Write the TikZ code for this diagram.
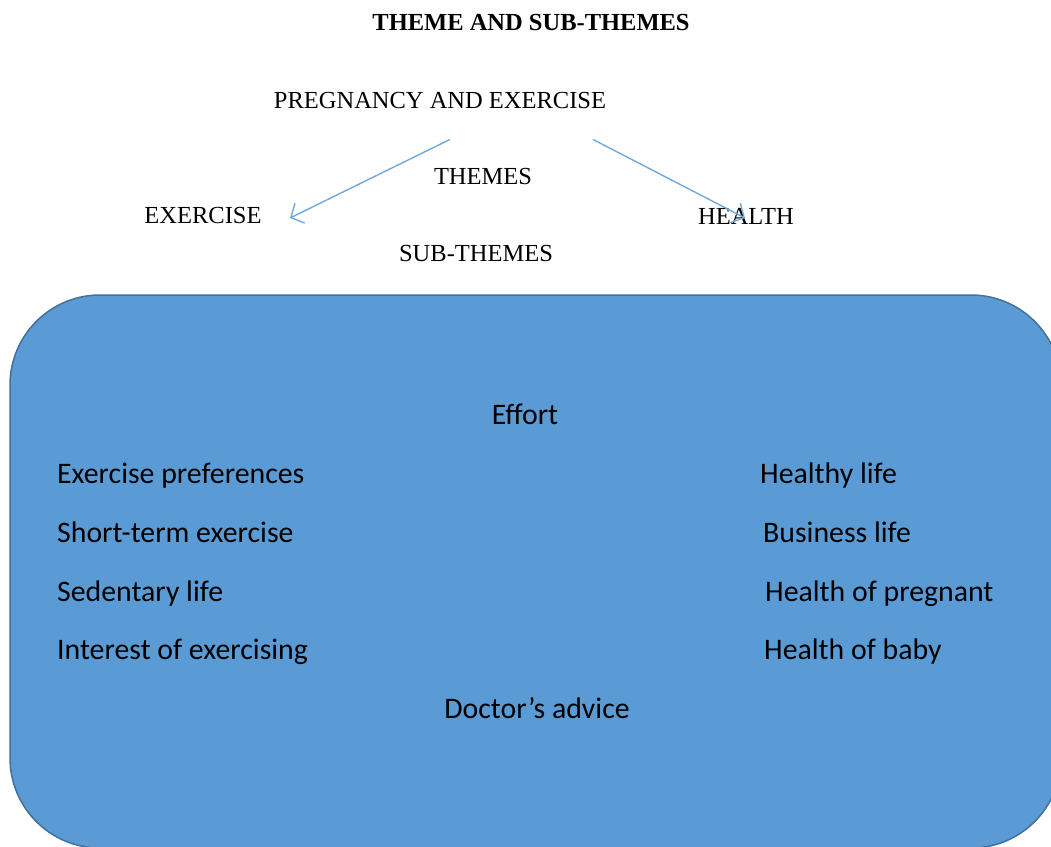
\documentclass[tikz,border=0pt]{standalone}
\usepackage{fontspec}
\setmainfont{Liberation Serif}
\newfontfamily\boxfont{Carlito}
\usetikzlibrary{arrows.meta}

\definecolor{boxblue}{HTML}{5B9BD5}
\definecolor{boxline}{HTML}{41719C}
\definecolor{arrowblue}{HTML}{6FA8DC}

\tikzset{
	heading/.style={inner sep=0pt, font=\fontsize{24.5}{29}\selectfont},
	subtheme/.style={inner sep=0pt, anchor=west, text height=17pt, text depth=5pt, font=\boxfont\fontsize{29.8}{34}\selectfont},
	midtheme/.style={subtheme, anchor=center},
	themearrow/.style={draw=arrowblue, line width=1.4pt, -{Straight Barb[length=10pt,width=22pt]}}
}

\begin{document}
\begin{tikzpicture}[x=1pt, y=-1pt]
		\useasboundingbox (0,0) rectangle (1051,846);
		
		% Sub-theme box
		\begin{scope}
			\clip (0,0) rectangle (1051,846);
			\filldraw[fill=boxblue, draw=boxline, line width=1.5pt, rounded corners=90pt] (10,295) rectangle (1061,848);
		\end{scope}
		
		% Titles
		\node[heading, font=\bfseries\fontsize{24.5}{29}\selectfont] (title) at (531,23) {THEME AND SUB-THEMES};
		\node[heading] (preg) at (440,101) {PREGNANCY AND EXERCISE};
		\node[heading] (themes) at (483,177) {THEMES};
		\node[heading] (exercise) at (203,216) {EXERCISE};
		\node[heading] (health) at (746,216) {HEALTH};
		\node[heading] (subthemes) at (476,254) {SUB-THEMES};
		
		% Arrows
		\coordinate (exTip) at (290,218);
		\coordinate (heTip) at (745,218);
		\draw[themearrow] ([xshift=10pt, yshift=-30pt]preg.south) -- (exTip);
		\draw[themearrow] ([xshift=153pt, yshift=-30pt]preg.south) -- (heTip);
		
		% Sub-themes
		\node[midtheme] (effort) at (525,418) {Effort};
		\node[subtheme] (pref) at (57,477) {Exercise preferences};
		\node[subtheme] (short) at (57,536) {Short-term exercise};
		\node[subtheme] (sedentary) at (57,595) {Sedentary life};
		\node[subtheme] (interest) at (57,653) {Interest of exercising};
		\node[midtheme] (doctor) at (537,712) {Doctor’s advice};
		
		\node[subtheme] (healthy) at (760,477) {Healthy life};
		\node[subtheme] (business) at (763,536) {Business life};
		\node[subtheme] (pregnant) at (765,595) {Health of pregnant};
		\node[subtheme] (baby) at (764,653) {Health of baby};
\end{tikzpicture}
\end{document}
